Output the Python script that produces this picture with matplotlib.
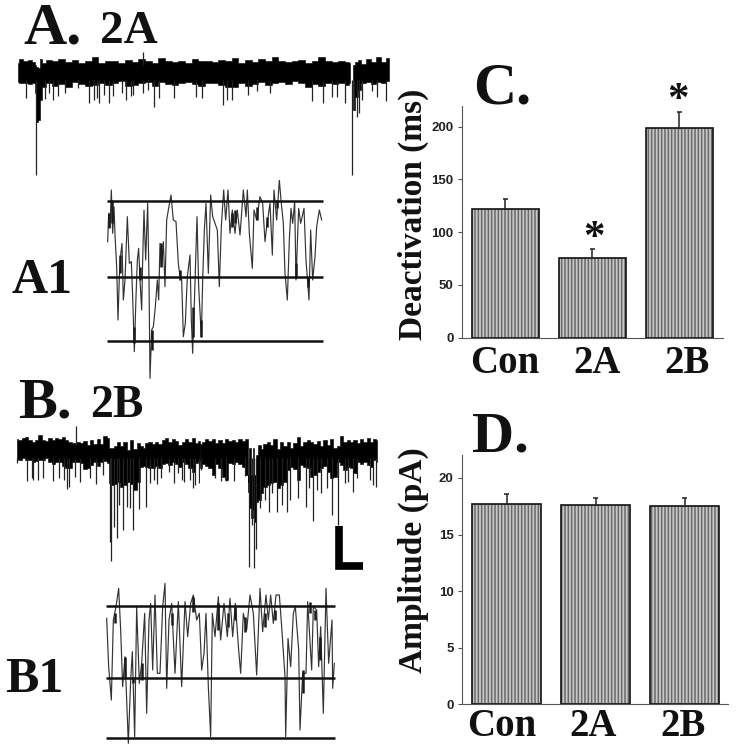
import matplotlib
matplotlib.use('Agg')
import matplotlib.pyplot as plt

W, H = 736, 744

# bar charts
groups = ['Con', '2A', '2B']
deact_mean = [122, 75, 199]
deact_top = [131, 84, 214]
amp_mean = [17.7, 17.6, 17.55]
amp_top = [18.6, 18.2, 18.2]

# trace A (zoomed units, y grows downward)
a_x = [54, 62, 75, 90, 100, 107, 110, 118, 122, 128, 145, 165, 185, 205, 225, 245, 265, 285, 305, 325, 345, 365,
       385, 405, 425, 445, 465, 485, 505, 525, 545, 565, 585, 605, 625, 645, 665, 685, 705, 725, 745, 765,
       785, 805, 825, 845, 865, 885, 905, 925, 945, 965, 985, 1005, 1025, 1045, 1051]
a_top = [190, 176, 184, 180, 186, 195, 200, 205, 176, 190, 180, 184, 178, 186, 180, 188, 182, 170, 188, 182, 184,
         188, 180, 186, 176, 182, 190, 174, 184, 186, 182, 188, 176, 184, 182, 186, 180, 184, 174, 188, 180,
         186, 178, 184, 172, 184, 186, 182, 180, 188, 182, 170, 184, 186, 182, 186, 190]
a_low = [246, 250, 248, 252, 250, 280, 365, 360, 300, 262, 250, 258, 252, 260, 246, 252, 258, 254, 248, 256, 250,
         244, 258, 256, 250, 246, 258, 246, 252, 256, 250, 246, 252, 258, 248, 250, 256, 262, 260, 250, 258,
         252, 246, 256, 250, 246, 252, 244, 248, 262, 252, 258, 250, 252, 250, 256, 250]
a2_x = [1060, 1068, 1078, 1090, 1105, 1120, 1135, 1150, 1168]
a2_top = [195, 186, 180, 192, 176, 186, 172, 186, 174]
a2_low = [330, 290, 270, 250, 246, 252, 246, 250, 244]
a_spike_x = [78, 108, 135, 148, 158, 175, 195, 235, 267, 283, 290, 297, 313, 326, 340, 365, 379, 392, 398, 428, 445,
             461, 476, 523, 587, 605, 670, 681, 695, 743, 770, 810, 935, 968, 997, 1012, 1035, 1055, 1063, 1072,
             1078, 1085, 1115, 1130, 1157]
a_spike_y = [294, 525, 298, 280, 300, 288, 280, 265, 308, 300, 295, 310, 285, 310, 288, 278, 300, 288, 285, 280, 270,
             322, 294, 295, 292, 293, 316, 300, 300, 285, 272, 280, 302, 308, 292, 292, 308, 525, 330, 352,
             340, 300, 272, 292, 302]
a_up_x = [430]
a_up_y = [156]

# trace B, left half
bl_x = [20, 30, 40, 50, 60, 70, 80, 90, 100, 110, 120, 130, 140, 150, 160, 170, 180, 190, 205, 215, 225, 235, 245,
        255, 265, 275, 285, 295, 300, 308, 315, 325, 335, 345, 355, 365, 375, 385, 395, 400, 410, 420, 430,
        440, 450, 460, 470, 480, 490, 500, 510, 520, 530, 540, 550, 560, 570]
bl_top = [42, 44, 40, 36, 45, 50, 46, 30, 45, 48, 38, 44, 40, 42, 36, 46, 52, 54, 50, 54, 48, 60, 45,
          58, 42, 56, 34, 40, 70, 70, 62, 52, 62, 50, 75, 44, 72, 55, 62, 68, 55, 52, 58,
          50, 56, 46, 40, 50, 42, 48, 60, 52, 42, 50, 40, 55, 48]
bl_low = [102, 104, 100, 106, 104, 110, 108, 106, 104, 100, 110, 116, 112, 110, 122, 128, 130, 112, 112, 115, 132,
          128, 120, 110, 124, 112, 108, 115, 175, 180, 178, 172, 185, 180, 170, 178, 195, 170, 125, 122, 125,
          128, 130, 122, 128, 118, 114, 120, 112, 118, 125, 112, 118, 130, 140, 115, 108]
bl_spike_x = [22, 50, 65, 70, 85, 98, 130, 146, 163, 172, 178, 195, 210, 240, 258, 280, 300, 304, 312, 321, 328, 338,
              352, 360, 369, 388, 407, 420, 433, 441, 452, 478, 492, 505, 515, 523, 540, 548, 556, 566]
bl_spike_y = [115, 168, 160, 166, 165, 160, 168, 160, 165, 192, 185, 155, 170, 160, 178, 150, 350, 408, 305, 338, 240,
              315, 245, 250, 315, 252, 245, 175, 165, 178, 160, 140, 175, 145, 165, 170, 165, 190, 180, 175]
bl_up_x = [197]
bl_up_y = [2]

# trace B, right half
br_x = [0, 10, 20, 30, 40, 50, 60, 70, 80, 90, 100, 110, 120, 130, 140, 146, 150, 155, 160, 165, 170, 178, 185, 195,
        205, 215, 225, 235, 245, 255, 265, 275, 285, 295, 305, 315, 325, 335, 345, 355, 365, 375, 385, 395, 405,
        415, 425, 435, 445, 455, 465, 475, 485, 495, 505, 515, 525, 530]
br_top = [58, 50, 42, 48, 42, 54, 44, 55, 42, 48, 44, 50, 42, 48, 42, 170, 70, 150, 70, 150, 90, 60, 72, 58,
          50, 60, 42, 72, 52, 62, 50, 70, 55, 36, 62, 50, 44, 50, 56, 48, 62, 46, 60, 42, 70,
          62, 34, 50, 46, 52, 44, 54, 42, 50, 38, 50, 42, 45]
br_low = [128, 118, 122, 130, 150, 118, 130, 155, 165, 115, 118, 112, 116, 125, 150, 200, 250, 280, 255, 290, 230, 225,
          205, 185, 180, 175, 170, 190, 180, 170, 135, 125, 132, 165, 120, 125, 128, 155, 150, 140, 130, 122, 140,
          160, 155, 110, 120, 135, 125, 130, 145, 112, 118, 112, 120, 125, 105, 110]
br_spike_x = [3, 44, 62, 78, 102, 136, 148, 155, 162, 168, 180, 195, 206, 215, 230, 245, 262, 270, 293, 318, 326, 338,
              352, 362, 380, 397, 415, 434, 445, 458, 472, 510, 518, 527]
br_spike_y = [135, 160, 168, 168, 168, 152, 425, 300, 430, 372, 250, 225, 260, 205, 262, 240, 262, 225, 220, 245, 188,
              288, 195, 203, 190, 270, 300, 175, 170, 200, 160, 165, 180, 185]
scale_x = [1016, 1016, 1088]
scale_y = [437, 559, 559]

# expanded sweeps
a1_t = [323, 326, 330, 334, 338, 342, 345, 350, 354, 358, 362, 366, 370, 375, 382, 388, 394, 398, 403, 408, 412,
        416, 420, 425, 428, 432, 437, 443, 447, 450, 455, 460, 466, 472, 476, 480, 485, 490, 495, 500, 505, 513,
        520, 528, 535, 540, 545, 550, 556, 562, 570, 574, 578, 584, 591, 596, 604, 608, 613, 618, 625, 632, 638,
        645, 652, 658, 664, 671, 677, 684, 690, 697, 705, 712, 720, 730, 738, 742, 748, 757, 762, 770, 780, 788,
        795, 800, 810, 817, 822, 830, 838, 843, 850, 855, 862, 868, 873, 878, 884, 888, 896, 902, 912, 918, 927,
        932, 938, 945, 950, 958, 965]
a1_i = [185, 100, 140, 30, 160, 80, 165, 260, 420, 290, 225, 190, 360, 300, 110, 250, 245, 350, 515, 350, 240,
        205, 300, 390, 240, 90, 240, 70, 300, 595, 450, 440, 380, 300, 360, 190, 260, 185, 320, 120, 90, 45,
        120, 125, 250, 290, 300, 470, 430, 290, 225, 420, 520, 340, 110, 320, 470, 300, 150, 70, 280, 45, 110,
        130, 150, 320, 140, 30, 120, 30, 160, 90, 160, 90, 165, 30, 110, 30, 160, 265, 90, 120, 50, 70,
        185, 140, 70, 225, 30, 120, 0, 60, 130, 280, 360, 180, 85, 130, 65, 300, 85, 130, 85, 240, 360,
        150, 300, 230, 140, 90, 120]
a1_burst_t = [328, 336, 360, 403, 420, 455, 482, 540, 578, 603, 695, 705, 770, 800, 830, 888, 925]
a1_burst_a = [100, 60, 225, 440, 260, 450, 190, 270, 380, 420, 100, 90, 80, 110, 60, 250, 290]
a1_burst_b = [145, 130, 280, 490, 300, 510, 260, 300, 470, 470, 140, 130, 120, 140, 85, 295, 320]
b1_t = [320, 326, 334, 340, 348, 356, 362, 368, 375, 385, 392, 397, 404, 410, 418, 425, 434, 440, 447, 452, 458,
        465, 472, 480, 488, 495, 500, 507, 515, 525, 535, 545, 555, 563, 572, 580, 590, 598, 605, 612, 618, 625,
        632, 637, 645, 655, 662, 672, 682, 690, 698, 706, 716, 722, 730, 740, 750, 760, 770, 780, 788, 798, 805,
        812, 820, 828, 838, 845, 855, 857, 864, 872, 880, 886, 896, 900, 908, 918, 923, 935, 940, 950, 956, 962,
        970, 978, 986, 996, 998, 1003]
b1_i = [145, 290, 390, 150, 110, 55, 180, 350, 260, 520, 330, 245, 500, 110, 340, 280, 130, 430, 150, 100, 300,
        75, 310, 310, 110, 40, 355, 150, 100, 310, 95, 350, 95, 200, 100, 75, 150, 130, 300, 250, 130, 350,
        500, 130, 200, 80, 210, 100, 200, 85, 200, 100, 240, 310, 130, 180, 75, 130, 315, 55, 185, 75, 150,
        75, 160, 75, 75, 170, 320, 500, 205, 290, 130, 110, 240, 480, 310, 310, 95, 300, 110, 120, 290, 170,
        430, 55, 280, 150, 355, 280]
b1_burst_t = [345, 375, 400, 425, 515, 580, 655, 685, 705, 735, 795, 825, 910, 930, 945, 960]
b1_burst_a = [130, 260, 320, 280, 130, 80, 100, 130, 110, 140, 130, 120, 300, 95, 120, 200]
b1_burst_b = [160, 320, 340, 330, 165, 125, 180, 170, 150, 185, 170, 150, 370, 130, 150, 270]
a1_levels = [63, 291, 482]
b1_levels = [108, 324, 503]

plt.rcParams['font.family'] = ['Liberation Serif', 'DejaVu Serif']
plt.rcParams['hatch.linewidth'] = 1.1
NARROW = ['Liberation Sans Narrow', 'Liberation Sans']

fig = plt.figure(figsize=(W / 100, H / 100), dpi=100)


def px_axes(x0, y0, x1, y1):
    # axes placed by its pixel box in the picture
    ax = fig.add_axes([x0 / W, 1 - y1 / H, (x1 - x0) / W, (y1 - y0) / H])
    return ax


def crop_axes(x, y, w, h):
    # same units as a 3x crop of that part of the picture
    ax = px_axes(x, y, x + w, y + h)
    ax.set_xlim(0, w * 3)
    ax.set_ylim(h * 3, 0)
    ax.axis('off')
    ax.patch.set_alpha(0)
    return ax


# page layer for the lettering
page = px_axes(0, 0, W, H)
page.set_xlim(0, W)
page.set_ylim(H, 0)
page.axis('off')


def label(x, y, s, size, **kw):
    page.text(x, y, s, fontsize=size, fontweight='bold', color='#111111', **kw)


label(23, 43, 'A.', 43)
label(100, 43, '2A', 34)
label(12, 293, 'A1', 36)
label(18, 417, 'B.', 42)
label(90, 417, '2B', 33)
label(5, 692, 'B1', 36)
label(473, 103, 'C.', 43)
label(472, 452, 'D.', 42)

# raw traces
ax = crop_axes(0, 0, 400, 190)
ax.fill_between(a_x, a_top, a_low, color='black', lw=0.4, step='mid')
ax.fill_between(a2_x, a2_top, a2_low, color='black', lw=0.4, step='mid')
ax.vlines(a_spike_x, 240, a_spike_y, color='#222222', lw=0.9)
ax.vlines(a_up_x, a_up_y, 195, color='#222222', lw=0.9)

ax = crop_axes(10, 425, 190, 145)
ax.fill_between(bl_x, bl_top, bl_low, color='black', lw=0.4, step='mid')
ax.vlines(bl_spike_x, 100, bl_spike_y, color='#222222', lw=0.9)
ax.vlines(bl_up_x, bl_up_y, 60, color='#222222', lw=0.9)

ax = crop_axes(200, 425, 190, 145)
ax.fill_between(br_x, br_top, br_low, color='black', lw=0.4, step='mid')
ax.vlines(br_spike_x, 100, br_spike_y, color='#222222', lw=0.9)

ax = crop_axes(0, 380, 390, 200)
ax.plot(scale_x, scale_y, color='black', lw=5.5, solid_joinstyle='miter', solid_capstyle='butt')

# expanded sweeps
ax = crop_axes(0, 180, 340, 210)
ax.plot(a1_t, a1_i, color='#333333', lw=0.85)
ax.vlines(a1_burst_t, a1_burst_a, a1_burst_b, color='#1a1a1a', lw=1.8)
ax.hlines(a1_levels, 320, 968, color='#111111', lw=1.8)

ax = crop_axes(0, 570, 350, 174)
ax.plot(b1_t, b1_i, color='#333333', lw=0.85)
ax.vlines(b1_burst_t, b1_burst_a, b1_burst_b, color='#1a1a1a', lw=1.8)
ax.hlines(b1_levels, 318, 1005, color='#111111', lw=1.8)


def bar_panel(box, xlim, ylim, means, tops, yticks, bar_w):
    ax = px_axes(*box)
    ax.patch.set_alpha(0)
    xs = range(len(means))
    ax.bar(xs, means, bar_w, color='#c8c8c8', edgecolor='#6a6a6a', hatch='|||||', lw=0)
    ax.bar(xs, means, bar_w, fill=False, edgecolor='#111111', lw=1.2)
    ax.vlines(xs, means, tops, color='#222222', lw=1.1)
    ax.hlines(tops, [x - 0.03 for x in xs], [x + 0.03 for x in xs], color='#222222', lw=1.1)
    ax.set_xlim(*xlim)
    ax.set_ylim(*ylim)
    ax.set_xticks([])
    ax.set_yticks(yticks)
    ax.tick_params(axis='y', length=3, width=0.8, color='#555555', pad=3)
    for t in ax.get_yticklabels():
        t.set_family(NARROW)
        t.set_fontweight('bold')
        t.set_fontsize(9.5)
        t.set_color('#222222')
    for s in ['top', 'right']:
        ax.spines[s].set_visible(False)
    ax.spines['left'].set_color('#555555')
    ax.spines['bottom'].set_color('#555555')
    ax.spines['left'].set_linewidth(0.8)
    ax.spines['bottom'].set_linewidth(0.8)
    return ax


bar_panel((462, 106, 723, 337.5), (-0.5, 2.5), (0, 219.6), deact_mean, deact_top, [0, 50, 100, 150, 200], 0.777)
bar_panel((462, 455.3, 728, 704.3), (-0.502, 2.487), (0, 22), amp_mean, amp_top, [0, 5, 10, 15, 20], 0.772)

for x, s in zip([505, 597, 687], groups):
    label(x, 373, s, 28, ha='center')
for x, s in zip([502, 593, 683], groups):
    label(x, 735.5, s, 28, ha='center')

label(413, 214, 'Deactivation (ms)', 24, rotation=90, ha='center', va='center')
label(413, 560, 'Amplitude (pA)', 24, rotation=90, ha='center', va='center')
label(594, 249, '*', 31, ha='center')
label(678, 111, '*', 31, ha='center')

fig.savefig('out.png', dpi=100)
